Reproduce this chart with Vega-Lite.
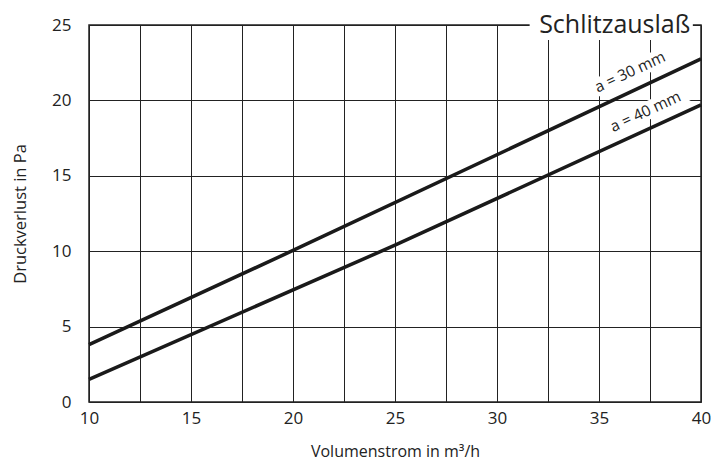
{
  "$schema": "https://vega.github.io/schema/vega-lite/v6.json",
  "width": 612,
  "height": 377,
  "autosize": {"type": "none"},
  "padding": {"left": 89, "top": 25, "right": 17, "bottom": 64},
  "background": "white",
  "config": {
    "font": "Open Sans",
    "view": {"stroke": "#222", "strokeWidth": 1.5}
  },
  "datasets": {
    "curves": [
      {"series": "a = 30 mm", "q": 10, "dp": 3.8},
      {"series": "a = 30 mm", "q": 20, "dp": 10.05},
      {"series": "a = 30 mm", "q": 40, "dp": 22.75},
      {"series": "a = 40 mm", "q": 10, "dp": 1.5},
      {"series": "a = 40 mm", "q": 25, "dp": 10.4},
      {"series": "a = 40 mm", "q": 40, "dp": 19.7}
    ],
    "bands": [
      {"series": "a = 30 mm", "q": 34.5, "dp": 20.6},
      {"series": "a = 30 mm", "q": 38.6, "dp": 23.2},
      {"series": "a = 40 mm", "q": 35.3, "dp": 18.0},
      {"series": "a = 40 mm", "q": 39.3, "dp": 20.55}
    ],
    "labels": [
      {"text": "a = 30 mm", "q": 36.52, "dp": 21.88},
      {"text": "a = 40 mm", "q": 37.28, "dp": 19.25}
    ],
    "title": [
      {"text": "Schlitzauslaß", "q": 35.77, "dp": 25, "q1": 31.6, "q2": 39.6, "dp1": 24.0, "dp2": 26.0}
    ]
  },
  "layer": [
    {
      "data": {"name": "bands"},
      "mark": {"type": "line", "color": "white", "strokeWidth": 18, "strokeCap": "butt"},
      "encoding": {
        "x": {"field": "q", "type": "quantitative", "scale": {"domain": [10, 40], "nice": false}},
        "y": {"field": "dp", "type": "quantitative", "scale": {"domain": [0, 25], "nice": false}},
        "detail": {"field": "series"}
      }
    },
    {
      "data": {"name": "title"},
      "mark": {"type": "rect", "color": "white"},
      "encoding": {
        "x": {"field": "q1", "type": "quantitative"},
        "x2": {"field": "q2"},
        "y": {"field": "dp1", "type": "quantitative"},
        "y2": {"field": "dp2"}
      }
    },
    {
      "data": {"name": "curves"},
      "mark": {"type": "line", "color": "#1a1a1a", "strokeWidth": 3.5},
      "encoding": {
        "x": {
          "field": "q", "type": "quantitative",
          "scale": {"domain": [10, 40], "nice": false},
          "axis": {
            "values": [10, 12.5, 15, 17.5, 20, 22.5, 25, 27.5, 30, 32.5, 35, 37.5, 40],
            "labelExpr": "datum.value % 5 == 0 ? datum.label : ''",
            "grid": true, "gridColor": "#222", "gridWidth": 1, "gridOpacity": 1,
            "ticks": false, "domain": false,
            "labelFontSize": 17, "labelColor": "#222", "labelPadding": 8,
            "labelFlush": false,
            "title": "Volumenstrom in m³/h", "titleFontSize": 16, "titleFontWeight": "normal",
            "titleColor": "#222", "titlePadding": 17
          }
        },
        "y": {
          "field": "dp", "type": "quantitative",
          "scale": {"domain": [0, 25], "nice": false},
          "axis": {
            "values": [0, 2.5, 5, 7.5, 10, 12.5, 15, 17.5, 20, 22.5, 25],
            "labelExpr": "datum.value % 5 == 0 ? datum.label : ''",
            "grid": true, "gridColor": "#222", "gridWidth": 1, "gridOpacity": 1,
            "ticks": false, "domain": false,
            "labelFontSize": 17, "labelColor": "#222", "labelPadding": 18,
            "labelFlush": false,
            "title": "Druckverlust in Pa", "titleFontSize": 16.5, "titleFontWeight": "normal",
            "titleColor": "#222", "titlePadding": 23
          }
        },
        "detail": {"field": "series"}
      }
    },
    {
      "data": {"name": "labels"},
      "mark": {"type": "text", "angle": -25, "fontSize": 15.5, "color": "#222", "align": "center", "baseline": "middle"},
      "encoding": {
        "x": {"field": "q", "type": "quantitative"},
        "y": {"field": "dp", "type": "quantitative"},
        "text": {"field": "text"}
      }
    },
    {
      "data": {"name": "title"},
      "mark": {"type": "text", "fontSize": 25, "color": "#222", "align": "center", "baseline": "middle"},
      "encoding": {
        "x": {"field": "q", "type": "quantitative"},
        "y": {"field": "dp", "type": "quantitative"},
        "text": {"field": "text"}
      }
    }
  ]
}
